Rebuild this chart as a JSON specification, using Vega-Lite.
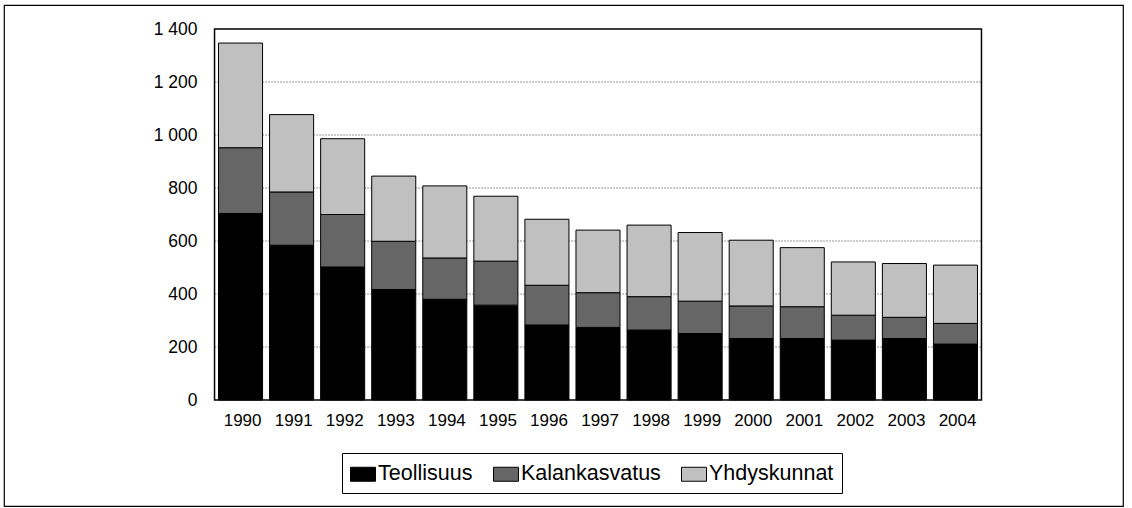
{
  "$schema": "https://vega.github.io/schema/vega-lite/v6.json",
  "autosize": {"type": "none"},
  "padding": {"left": 4, "top": 5, "right": 9, "bottom": 2},
  "width": 1119,
  "height": 501,
  "background": "white",
  "config": {
    "view": {"stroke": "black", "strokeWidth": 1.2},
    "font": "Liberation Sans",
    "axis": {"labelFont": "Liberation Sans", "labelColor": "black"}
  },
  "layer": [
    {
      "data": {"values": [{"g": 200}, {"g": 400}, {"g": 600}, {"g": 800}, {"g": 1000}, {"g": 1200}]},
      "mark": {"type": "rule", "color": "#333333", "strokeWidth": 1, "strokeDash": [1, 2], "xOffset": -26, "x2Offset": 26},
      "encoding": {
        "y": {"field": "g", "type": "quantitative"},
        "x": {"datum": 1990, "type": "ordinal", "bandPosition": 0.5},
        "x2": {"datum": 2004, "bandPosition": 0.5}
      }
    },
    {
      "data": {"values": [
        {"vuosi": 1990, "sarja": "Teollisuus", "arvo": 704}, {"vuosi": 1990, "sarja": "Kalankasvatus", "arvo": 248}, {"vuosi": 1990, "sarja": "Yhdyskunnat", "arvo": 395},
        {"vuosi": 1991, "sarja": "Teollisuus", "arvo": 584}, {"vuosi": 1991, "sarja": "Kalankasvatus", "arvo": 201}, {"vuosi": 1991, "sarja": "Yhdyskunnat", "arvo": 292},
        {"vuosi": 1992, "sarja": "Teollisuus", "arvo": 502}, {"vuosi": 1992, "sarja": "Kalankasvatus", "arvo": 198}, {"vuosi": 1992, "sarja": "Yhdyskunnat", "arvo": 286},
        {"vuosi": 1993, "sarja": "Teollisuus", "arvo": 417}, {"vuosi": 1993, "sarja": "Kalankasvatus", "arvo": 182}, {"vuosi": 1993, "sarja": "Yhdyskunnat", "arvo": 246},
        {"vuosi": 1994, "sarja": "Teollisuus", "arvo": 380}, {"vuosi": 1994, "sarja": "Kalankasvatus", "arvo": 156}, {"vuosi": 1994, "sarja": "Yhdyskunnat", "arvo": 272},
        {"vuosi": 1995, "sarja": "Teollisuus", "arvo": 358}, {"vuosi": 1995, "sarja": "Kalankasvatus", "arvo": 166}, {"vuosi": 1995, "sarja": "Yhdyskunnat", "arvo": 245},
        {"vuosi": 1996, "sarja": "Teollisuus", "arvo": 283}, {"vuosi": 1996, "sarja": "Kalankasvatus", "arvo": 150}, {"vuosi": 1996, "sarja": "Yhdyskunnat", "arvo": 249},
        {"vuosi": 1997, "sarja": "Teollisuus", "arvo": 274}, {"vuosi": 1997, "sarja": "Kalankasvatus", "arvo": 131}, {"vuosi": 1997, "sarja": "Yhdyskunnat", "arvo": 236},
        {"vuosi": 1998, "sarja": "Teollisuus", "arvo": 264}, {"vuosi": 1998, "sarja": "Kalankasvatus", "arvo": 126}, {"vuosi": 1998, "sarja": "Yhdyskunnat", "arvo": 270},
        {"vuosi": 1999, "sarja": "Teollisuus", "arvo": 251}, {"vuosi": 1999, "sarja": "Kalankasvatus", "arvo": 122}, {"vuosi": 1999, "sarja": "Yhdyskunnat", "arvo": 259},
        {"vuosi": 2000, "sarja": "Teollisuus", "arvo": 232}, {"vuosi": 2000, "sarja": "Kalankasvatus", "arvo": 123}, {"vuosi": 2000, "sarja": "Yhdyskunnat", "arvo": 248},
        {"vuosi": 2001, "sarja": "Teollisuus", "arvo": 232}, {"vuosi": 2001, "sarja": "Kalankasvatus", "arvo": 120}, {"vuosi": 2001, "sarja": "Yhdyskunnat", "arvo": 223},
        {"vuosi": 2002, "sarja": "Teollisuus", "arvo": 226}, {"vuosi": 2002, "sarja": "Kalankasvatus", "arvo": 94}, {"vuosi": 2002, "sarja": "Yhdyskunnat", "arvo": 201},
        {"vuosi": 2003, "sarja": "Teollisuus", "arvo": 232}, {"vuosi": 2003, "sarja": "Kalankasvatus", "arvo": 80}, {"vuosi": 2003, "sarja": "Yhdyskunnat", "arvo": 203},
        {"vuosi": 2004, "sarja": "Teollisuus", "arvo": 211}, {"vuosi": 2004, "sarja": "Kalankasvatus", "arvo": 78}, {"vuosi": 2004, "sarja": "Yhdyskunnat", "arvo": 220}
      ]},
      "transform": [
        {"calculate": "indexof(['Teollisuus','Kalankasvatus','Yhdyskunnat'], datum.sarja)", "as": "jarjestys"}
      ],
      "mark": {"type": "bar", "stroke": "black", "strokeWidth": 1},
      "encoding": {
        "x": {
          "field": "vuosi", "type": "ordinal",
          "scale": {"range": [211, 977], "paddingInner": 0.1373, "paddingOuter": 0.0686},
          "axis": {"title": null, "orient": "bottom", "offset": -106, "domain": false, "ticks": false, "tickSize": 0, "labelPadding": 20, "labelFontSize": 17, "labelAngle": 0, "labelOffset": 21}
        },
        "y": {
          "field": "arvo", "type": "quantitative", "stack": "zero",
          "scale": {"domain": [-400, 1490.6], "nice": false, "zero": false},
          "axis": {"title": null, "orient": "left", "offset": -211, "domain": false, "ticks": false, "tickSize": 0, "grid": false, "labelPadding": 18, "labelFontSize": 17.5, "values": [0, 200, 400, 600, 800, 1000, 1200, 1400], "labelExpr": "replace(format(datum.value, ',d'), ',', ' ')"}
        },
        "color": {
          "field": "sarja", "type": "nominal",
          "scale": {"domain": ["Teollisuus", "Kalankasvatus", "Yhdyskunnat"], "range": ["#000000", "#666666", "#c0c0c0"]},
          "legend": {
            "title": null, "orient": "none", "legendX": 338, "legendY": 448, "direction": "horizontal",
            "strokeColor": "black", "padding": 8, "labelFont": "Liberation Sans", "labelFontSize": 21.5, "labelColor": "black",
            "symbolType": "M-1,-0.56H1V0.56H-1Z", "symbolSize": 625, "symbolStrokeColor": "black", "symbolStrokeWidth": 1, "symbolOpacity": 1,
            "labelOffset": 2, "columnPadding": 18
          }
        },
        "order": {"field": "jarjestys", "type": "quantitative"}
      }
    },
    {
      "data": {"values": [{"ala": 0, "yla": 1400}]},
      "mark": {"type": "rect", "filled": false, "stroke": "black", "strokeWidth": 1.5, "xOffset": -26, "x2Offset": 26},
      "encoding": {
        "x": {"datum": 1990, "type": "ordinal", "bandPosition": 0.5},
        "x2": {"datum": 2004, "bandPosition": 0.5},
        "y": {"field": "ala", "type": "quantitative"},
        "y2": {"field": "yla"}
      }
    }
  ]
}
